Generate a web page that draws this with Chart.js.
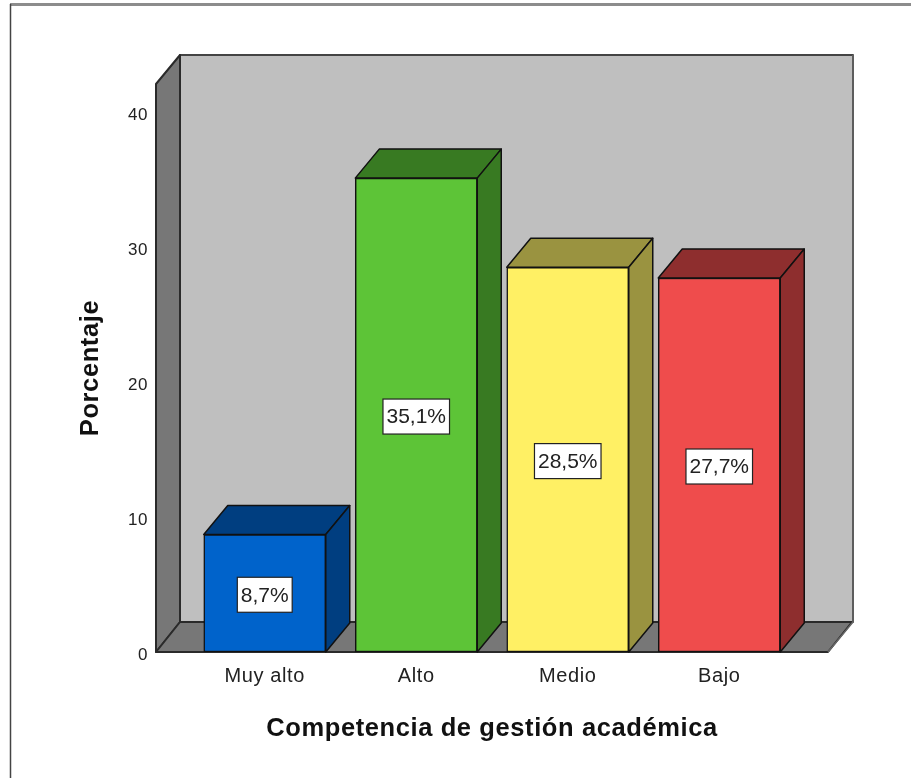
<!DOCTYPE html>
<html><head><meta charset="utf-8">
<style>html,body{margin:0;padding:0;background:#fff;overflow:hidden}canvas{display:block}</style>
<script src="https://cdn.jsdelivr.net/npm/chart.js@4"></script>
</head><body><canvas id="c" width="911" height="778"></canvas>
<script>
const categories = ['Muy alto','Alto','Medio','Bajo'];
const values = [8.7,35.1,28.5,27.7];
const valueLabels = ['8,7%','35,1%','28,5%','27,7%'];
const frontColors = ['#0063CB','#5DC437','#FFF064','#EF4C4C'];
const sideColors = ['#003E80','#387A22','#9A9340','#8E2E2E'];
const yTitle = 'Porcentaje';
const xTitle = 'Competencia de gestión académica';
const DX = 24, DY = 30, BAR_DY = 29, WALL_L = 33, WALL_R = 34;
const FONT = '"Liberation Sans", Arial, sans-serif';

function poly(ctx, pts, fill, stroke, lw){
  ctx.beginPath();
  pts.forEach((p,i)=> i?ctx.lineTo(p[0],p[1]):ctx.moveTo(p[0],p[1]));
  ctx.closePath();
  ctx.fillStyle = fill; ctx.fill();
  if(stroke){ctx.strokeStyle = stroke; ctx.lineWidth = lw||1.5; ctx.lineJoin='round'; ctx.stroke();}
}
const box3d = {
  id:'box3d',
  beforeDraw(chart){ chart.ctx.letterSpacing='0.6px'; },
  beforeDatasetsDraw(chart){
    const {ctx, chartArea:a, scales:{x,y}} = chart;
    const L=a.left-WALL_L, R=a.right+WALL_R, B=y.getPixelForValue(0), T=a.top;
    ctx.save();
    ctx.letterSpacing='0px';
    // frame
    ctx.strokeStyle='#8c8c8c'; ctx.lineWidth=3;
    ctx.beginPath(); ctx.moveTo(10,4.5); ctx.lineTo(911,4.5); ctx.stroke();
    ctx.strokeStyle='#444'; ctx.lineWidth=1.5;
    ctx.beginPath(); ctx.moveTo(10.5,4); ctx.lineTo(10.5,778); ctx.stroke();
    // back wall
    poly(ctx,[[L+DX,T-DY+1],[R+DX,T-DY+1],[R+DX,B-DY],[L+DX,B-DY]],'#BFBFBF','#444',2);
    // left wall
    poly(ctx,[[L,T],[L+DX,T-DY+1],[L+DX,B-DY],[L,B]],'#777777','#2a2a2a',2);
    // floor
    poly(ctx,[[L,B],[L+DX,B-DY],[R-1+DX,B-DY],[R-1,B]],'#777777','#2a2a2a',2);
    // right edge softer
    ctx.strokeStyle='#666'; ctx.lineWidth=1.5;
    ctx.beginPath(); ctx.moveTo(R+DX,T-DY+1); ctx.lineTo(R+DX,B-DY); ctx.lineTo(R-1,B); ctx.stroke();
    // bar faces
    chart.getDatasetMeta(0).data.forEach((b,i)=>{
      const l=b.x-b.width/2, r=b.x+b.width/2, t=b.y, bt=b.base;
      poly(ctx,[[l,t],[l+DX,t-BAR_DY],[r+DX,t-BAR_DY],[r,t]],sideColors[i],'#111',1.5);
      poly(ctx,[[r,t],[r+DX,t-BAR_DY],[r+DX,bt-BAR_DY],[r,bt]],sideColors[i],'#111',1.5);
    });
    ctx.restore();
  },
  afterDatasetsDraw(chart){
    const {ctx} = chart;
    ctx.save();
    ctx.letterSpacing='0px';
    ctx.font='21px '+FONT;
    ctx.textAlign='center'; ctx.textBaseline='middle';
    chart.getDatasetMeta(0).data.forEach((b,i)=>{
      const cx=b.x, cy=(b.y+b.base)/2+1.5;
      const w=ctx.measureText(valueLabels[i]).width+7, h=35;
      ctx.fillStyle='#fff'; ctx.fillRect(cx-w/2,cy-h/2,w,h);
      ctx.strokeStyle='#222'; ctx.lineWidth=1.2; ctx.strokeRect(cx-w/2,cy-h/2,w,h);
      ctx.fillStyle='#222'; ctx.fillText(valueLabels[i],cx,cy+1);
    });
    ctx.restore();
  }
};
new Chart(document.getElementById('c'),{
  type:'bar',
  data:{labels:categories,datasets:[{data:values,backgroundColor:frontColors,borderColor:'#111',borderWidth:1.5,borderSkipped:false,barThickness:122}]},
  plugins:[box3d],
  options:{
    responsive:false,animation:false,devicePixelRatio:1,
    layout:{padding:{top:84,right:116,left:0,bottom:0}},
    plugins:{legend:{display:false},tooltip:{enabled:false},title:{display:false}},
    scales:{
      x:{
        grid:{display:false},border:{display:false},
        afterFit(s){s.height=126;},
        ticks:{color:'#222',font:{family:FONT,size:20},padding:4,maxRotation:0},
        title:{display:true,text:xTitle,color:'#111',font:{family:FONT,size:25.5,weight:'bold'},padding:{top:10,bottom:34}}
      },
      y:{
        min:0,max:42.07,
        grid:{display:false},border:{display:false},
        afterFit(s){s.width=189;},
        ticks:{stepSize:10,includeBounds:false,color:'#222',font:{family:FONT,size:17},padding:33,labelOffset:3},
        title:{display:true,text:yTitle,color:'#111',font:{family:FONT,size:25.5,weight:'bold'},padding:{top:76,bottom:0}}
      }
    }
  }
});
</script></body></html>
